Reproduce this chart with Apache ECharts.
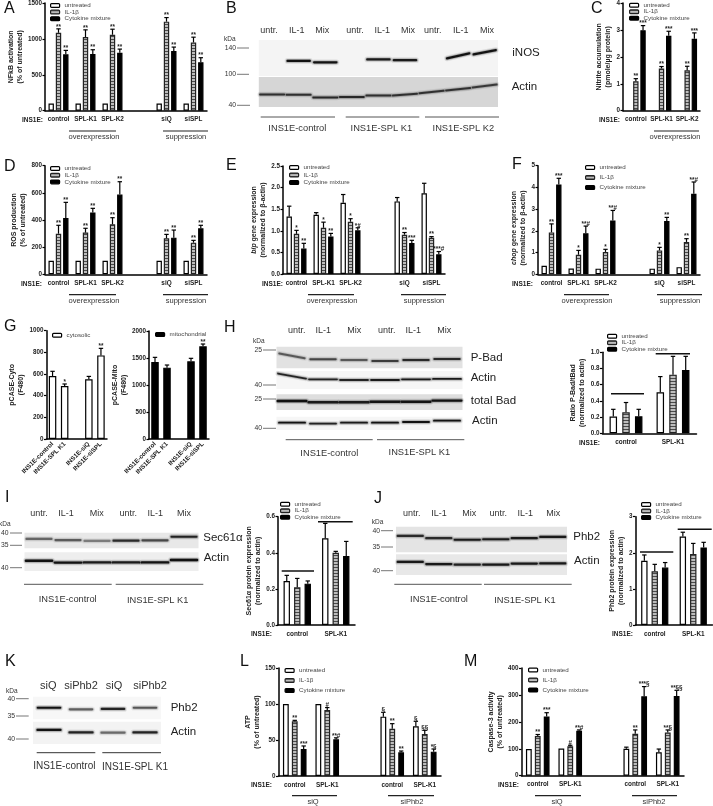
<!DOCTYPE html>
<html>
<head>
<meta charset="utf-8">
<style>
  html, body { margin: 0; padding: 0; background: #fff; }
  #chart { width: 713px; height: 806px; filter: blur(0.35px); }
</style>
<script src="https://cdn.jsdelivr.net/npm/echarts@6/dist/echarts.min.js"></script>
</head>
<body>
<div id="chart"></div>
<script>
// bar panels: means, whisker tops, significance marks
const treatNames = ["untreated", "IL-1β", "Cytokine mixture"];

const aCats = ["control", "SPL-K1", "SPL-K2", "", "siQ", "siSPL"];
const aUntr = [100, 100, 100, null, 100, 100];
const aIL = [1085, 1025, 1058, null, 1240, 950];
const aMix = [785, 790, 808, null, 830, 675];
const aILTop = [1140, 1126, 1135, null, 1297, 1024];
const aMixTop = [840, 849, 858, null, 886, 738];
const aMarks = [["", "**", "**"], ["", "**", "**"], ["", "**", "**"], [], ["", "**", "**"], ["", "**", "**"]];

const cCats = ["control", "SPL-K1", "SPL-K2"];
const cIL = [1.09, 1.57, 1.5];
const cMix = [2.99, 2.78, 2.67];
const cILTop = [1.19, 1.64, 1.65];
const cMixTop = [3.16, 2.95, 2.89];
const cMarks = [["", "**", "***"], ["", "**", "***"], ["", "**", "***"]];

const dCats = ["control", "SPL-K1", "SPL-K2", "", "siQ", "siSPL"];
const dUntr = [100, 100, 100, null, 100, 100];
const dIL = [299, 307, 368, null, 265, 233];
const dMix = [415, 456, 587, null, 270, 339];
const dILTop = [361, 339, 417, null, 294, 250];
const dMixTop = [530, 486, 682, null, 326, 361];
const dMarks = [["", "**", "**"], ["", "**", "**"], ["", "**", "**"], [], ["", "**", "**"], ["", "**", "**"]];

const eCats = ["control", "SPL-K1", "SPL-K2", "", "siQ", "siSPL"];
const eUntr = [1.33, 1.37, 1.65, null, 1.68, 1.87];
const eIL = [0.93, 1.07, 1.21, null, 0.91, 0.84];
const eMix = [0.59, 0.87, 1.01, null, 0.72, 0.455];
const eUntrTop = [1.57, 1.42, 1.84, null, 1.77, 2.1];
const eILTop = [1.01, 1.2, 1.28, null, 0.96, 0.865];
const eMixTop = [0.71, 0.94, 1.07, null, 0.78, 0.52];
const eMarks = [["", "*", "**"], ["", "*", "**"], ["", "*", "*#"], [], ["", "**", "***"], ["", "**", "***#"]];

const fCats = ["control", "SPL-K1", "SPL-K2", "", "siQ", "siSPL"];
const fUntr = [0.39, 0.27, 0.26, null, 0.26, 0.33];
const fIL = [1.93, 0.9, 1.03, null, 1.1, 1.49];
const fMix = [4.14, 1.89, 2.48, null, 2.45, 3.71];
const fILTop = [2.32, 1.1, 1.15, null, 1.24, 1.64];
const fMixTop = [4.42, 2.22, 2.94, null, 2.62, 4.25];
const fMarks = [["", "**", "***"], ["", "*", "**#"], ["", "*", "**#"], [], ["", "*", "**"], ["", "**", "**#"]];

const gCats = ["INS1E-control", "INS1E-SPL K1", "", "INS1E-siQ", "INS1E-siSPL"];
const gCyto = [581, 489, null, 551, 772];
const gCytoTop = [625, 508, null, 578, 837];
const gCytoMarks = [[""], ["*"], [], [""], ["**"]];
const gMito = [1426, 1321, null, 1438, 1716];
const gMitoTop = [1512, 1370, null, 1494, 1759];
const gMitoMarks = [[""], [""], [], [""], ["**"]];

const twoCats = ["control", "SPL-K1"];
const hUntr = [0.206, 0.506];
const hIL = [0.26, 0.724];
const hMix = [0.21, 0.782];
const hUntrTop = [0.296, 0.7];
const hILTop = [0.38, 0.95];
const hMixTop = [0.296, 0.95];

const iUntr = [0.244, 0.48];
const iIL = [0.209, 0.4];
const iMix = [0.229, 0.382];
const iUntrTop = [0.275, 0.563];
const iILTop = [0.258, 0.408];
const iMixTop = [0.244, 0.463];

const jUntr = [1.78, 2.45];
const jIL = [1.49, 1.97];
const jMix = [1.59, 2.15];
const jUntrTop = [1.94, 2.57];
const jILTop = [1.68, 2.26];
const jMixTop = [1.73, 2.29];

const lCats = ["control", "SPL-K1", "", "control", "SPL-K1"];
const lUntr = [100, 100, null, 82.4, 69];
const lIL = [76, 91.7, null, 65.7, 58.3];
const lMix = [37.5, 51, null, 32.9, 33.8];
const lUntrTop = [null, null, null, 88.4, 76];
const lILTop = [77.3, 95, null, 72.7, 63.4];
const lMixTop = [41.7, 53, null, 34.7, 37.5];
const lMarks = [["", "**", "***"], ["", "#", "**#"], [], ["§", "**", "**"], ["§", "§§", "*§"]];

const mCats = ["control", "SPL-K1", "", "control", "SPL-K1"];
const mUntr = [99, 101, null, 100, 87];
const mIL = [147, 109, null, 156, 160];
const mMix = [220, 167, null, 295, 296];
const mUntrTop = [null, null, null, 106, 99];
const mILTop = [153, 113, null, 170, 170];
const mMixTop = [234, 170, null, 331, 317];
const mMarks = [["", "**", "***"], ["", "#", "**#"], [], ["", "**", "***§"], ["", "**§", "**§§"]];

// blots: band migration (0 top of strip, 100 bottom), density and slope for each lane
const bNosPos = [null, 58, 62, null, 54, 56, null, 44, 34];
const bNosDark = [0, 0.95, 0.95, 0, 0.9, 0.9, 0, 0.95, 0.95];
const bNosTilt = [0, 0, 0, 0, 0, 0, 0, -14, -12];
const bActPos = [58, 59, 68, 67, 62, 59, 50, 41, 30];
const bActDark = [0.75, 0.75, 0.8, 0.8, 0.75, 0.75, 0.75, 0.75, 0.7];
const bActTilt = [0, 0, 0, 0, 0, -6, -8, -8, -10];
const hBadPos = [42, 58, 62, 66, 62, 57];
const hBadDark = [0.55, 0.65, 0.55, 0.7, 0.8, 0.8];
const hBadTilt = [22, 0, 0, 0, 0, 0];
const hAct1Pos = [28, 46, 50, 50, 46, 44];
const hAct1Dark = [0.85, 0.85, 0.85, 0.9, 0.9, 0.9];
const hAct1Tilt = [28, 0, 0, 0, 0, 0];
const hTotPos = [43, 51, 51, 47, 47, 40];
const hTotDark = [0.95, 0.9, 0.9, 0.95, 0.95, 0.95];
const hAct2Pos = [45, 52, 45, 45, 40, 30];
const hAct2Dark = [0.95, 0.85, 0.9, 0.95, 0.95, 0.95];
const iSecPos = [40, 47, 53, 51, 49, 26];
const iSecDark = [0.5, 0.55, 0.4, 0.8, 0.65, 0.85];
const iActPos = [45, 55, 54, 54, 54, 41];
const iActDark = [0.95, 0.95, 0.9, 0.9, 0.95, 0.95];
const jPhbPos = [36, 45, 51, 49, 45, 40];
const jPhbDark = [0.8, 0.8, 0.9, 0.9, 0.9, 0.9];
const jActPos = [37, 47, 50, 50, 45, 44];
const jActDark = [0.9, 0.9, 0.85, 0.9, 0.9, 0.9];
const kPhbPos = [49, 56, 54, 49];
const kPhbDark = [0.95, 0.55, 0.85, 0.6];
const kActPos = [37, 48, 49, 48];
const kActDark = [0.95, 0.85, 0.5, 0.85];

const FONT = "Liberation Sans";

// horizontal stripe fill for the IL-1β bars
function stripePattern() {
  const c = document.createElement("canvas");
  c.width = 4;
  c.height = 3;
  const ctx = c.getContext("2d");
  ctx.fillStyle = "#bdbdbd";
  ctx.fillRect(0, 0, 4, 3);
  ctx.fillStyle = "#4a4a4a";
  ctx.fillRect(0, 0, 4, 1);
  return { image: c, repeat: "repeat" };
}

const barStyles = {
  white: { color: "#fff", borderColor: "#000", borderWidth: 1.2 },
  hatch: { color: stripePattern(), borderColor: "#222", borderWidth: 1.2 },
  black: { color: "#000", borderColor: "#000", borderWidth: 1.2 },
};
const treat = (u, il, m, uTop, ilTop, mTop) => [
  { name: treatNames[0], data: u, top: uTop, style: "white" },
  { name: treatNames[1], data: il, top: ilTop, style: "hatch" },
  { name: treatNames[2], data: m, top: mTop, style: "black" },
];
const noMarks = [["", "", ""], ["", "", ""]];
const noTop = [null, null, null, null, null, null];
const noBars = [null, null, null];

const panels = [
  { left: 45, top: 2, width: 162, height: 108.7, cats: aCats, max: 1500, step: 500, bar: 5.4, pitch: 7.3,
    yName: "NFkB activation\n(% of untreated)", nameGap: 14.5, bars: treat(aUntr, aIL, aMix, noTop, aILTop, aMixTop), marks: aMarks,
    legend: { left: 50, top: 2.5, pitch: 5.6 } },
  { left: 623, top: 2.3, width: 77, height: 108.4, cats: cCats, max: 4, step: 1, bar: 5.4, pitch: 7.2,
    yName: "Nitrite accumulation\n(pmole/µg protein)", nameGap: 5.5, bars: treat(noBars, cIL, cMix, noBars, cILTop, cMixTop), marks: cMarks,
    legend: { left: 629, top: 2.2, pitch: 5.5 } },
  { left: 45, top: 165.7, width: 162, height: 108.6, cats: dCats, max: 800, step: 200, bar: 5.4, pitch: 7.3,
    yName: "ROS production\n(% of untreated)", nameGap: 11.5, bars: treat(dUntr, dIL, dMix, noTop, dILTop, dMixTop), marks: dMarks,
    legend: { left: 50, top: 165.5, pitch: 5.7 } },
  { left: 283, top: 166, width: 162, height: 108, cats: eCats, max: 2.5, step: 0.5, dec: 1, bar: 5.4, pitch: 7.3,
    yName: "{i|bip} gene expression\n(normalized to β-actin)", nameGap: 10, bars: treat(eUntr, eIL, eMix, eUntrTop, eILTop, eMixTop), marks: eMarks,
    legend: { left: 289, top: 164.5, pitch: 6.5 } },
  { left: 538, top: 165.7, width: 162, height: 108.6, cats: fCats, max: 5, step: 1, bar: 5.4, pitch: 7.3,
    yName: "{i|chop} gene expression\n(normalized to β-actin)", nameGap: 4.5, namePad: [0, 16, 0, 0], bars: treat(fUntr, fIL, fMix, noTop, fILTop, fMixTop), marks: fMarks,
    legend: { left: 585, top: 164.5, pitch: 9 } },
  { left: 46.5, top: 330.7, width: 60.5, height: 108.3, cats: gCats, max: 1000, step: 200, bar: 7.5, pitch: 0, rotate: 45,
    yName: "pCASE-Cyto\n(F480)", nameGap: 13, bars: [{ name: "cytosolic", data: gCyto, top: gCytoTop, style: "white" }], marks: gCytoMarks,
    legend: { left: 52, top: 332.2, pitch: 6 } },
  { left: 149, top: 331, width: 60, height: 108, cats: gCats, max: 2000, step: 500, bar: 7.5, pitch: 0, rotate: 45,
    yName: "pCASE-Mito\n(F480)", nameGap: 13.5, bars: [{ name: "mitochondrial", data: gMito, top: gMitoTop, style: "black" }], marks: gMitoMarks,
    legend: { left: 155, top: 331.5, pitch: 6 } },
  { left: 602.5, top: 352.3, width: 94, height: 81, cats: twoCats, max: 1, step: 0.2, dec: 1, bar: 7.5, pitch: 12.7,
    yName: "Ratio P-Bad/tBad\n(normalized to actin)", nameGap: 9.5, bars: treat(hUntr, hIL, hMix, hUntrTop, hILTop, hMixTop), marks: noMarks,
    legend: { left: 607, top: 333.2, pitch: 5.5 } },
  { left: 278, top: 516.7, width: 77, height: 108.3, cats: twoCats, max: 0.6, step: 0.2, dec: 1, bar: 6.4, pitch: 10.5,
    yName: "Sec61α protein expression\n(normalized to actin)", nameGap: 10.5, bars: treat(iUntr, iIL, iMix, iUntrTop, iILTop, iMixTop), marks: noMarks,
    legend: { left: 280, top: 501.2, pitch: 5.5 } },
  { left: 635.5, top: 516.7, width: 77, height: 108.3, cats: twoCats, max: 3, step: 1, bar: 6.4, pitch: 10.4,
    yName: "Phb2 protein expression\n(normalized to actin)", nameGap: 4.7, bars: treat(jUntr, jIL, jMix, jUntrTop, jILTop, jMixTop), marks: noMarks,
    legend: { left: 641, top: 501.5, pitch: 5.5 } },
  { left: 278.5, top: 668, width: 162.5, height: 108, cats: lCats, max: 150, step: 50, bar: 5.8, pitch: 8.9,
    yName: "ATP\n(% of untreated)", nameGap: 11.7, bars: treat(lUntr, lIL, lMix, lUntrTop, lILTop, lMixTop), marks: lMarks,
    legend: { left: 284.5, top: 667.5, pitch: 9 } },
  { left: 521.5, top: 668, width: 162.5, height: 107.7, cats: mCats, max: 400, step: 100, bar: 5.8, pitch: 8.9,
    yName: "Caspase-3 activity\n(% of untreated)", nameGap: 10.5, bars: treat(mUntr, mIL, mMix, mUntrTop, mILTop, mMixTop), marks: mMarks,
    legend: { left: 528, top: 667, pitch: 9 } },
];

const strips = [
  { left: 258.8, top: 40, width: 239.2, height: 36, bg: "#f4f4f4", pos: bNosPos, dark: bNosDark, tilt: bNosTilt, fill: 0.84, thick: 2.2 },
  { left: 258.8, top: 77, width: 239.2, height: 30, bg: "#d6d6d6", pos: bActPos, dark: bActDark, tilt: bActTilt, fill: 0.9, thick: 2 },
  { left: 276.5, top: 346.7, width: 186, height: 21.6, bg: "#e2e2e2", pos: hBadPos, dark: hBadDark, tilt: hBadTilt, fill: 0.82, thick: 2 },
  { left: 276.5, top: 371, width: 186, height: 18, bg: "#f6f6f6", pos: hAct1Pos, dark: hAct1Dark, tilt: hAct1Tilt, fill: 0.9, thick: 1.8 },
  { left: 276.5, top: 394.3, width: 186, height: 15.7, bg: "#dedede", pos: hTotPos, dark: hTotDark, fill: 0.92, thick: 2.4 },
  { left: 276.5, top: 416.7, width: 186, height: 13.3, bg: "#f6f6f6", pos: hAct2Pos, dark: hAct2Dark, fill: 0.84, thick: 1.8 },
  { left: 24.5, top: 532.7, width: 174, height: 15.6, bg: "#e8e8e8", pos: iSecPos, dark: iSecDark, fill: 0.86, thick: 2.2 },
  { left: 24.5, top: 552.3, width: 174, height: 18.7, bg: "#eeeeee", pos: iActPos, dark: iActDark, fill: 0.9, thick: 2.4 },
  { left: 396, top: 526.7, width: 171, height: 25.6, bg: "#e4e4e4", pos: jPhbPos, dark: jPhbDark, fill: 0.88, thick: 2.2 },
  { left: 396, top: 554.3, width: 171, height: 20.7, bg: "#e8e8e8", pos: jActPos, dark: jActDark, fill: 0.88, thick: 2.2 },
  { left: 33, top: 696.7, width: 128, height: 22.6, bg: "#f7f7f7", pos: kPhbPos, dark: kPhbDark, fill: 0.7, thick: 2.2 },
  { left: 33, top: 721.7, width: 128, height: 22.3, bg: "#f3f3f3", pos: kActPos, dark: kActDark, fill: 0.72, thick: 2.2 },
];

// free text and rules around the plots
const txt = (x, y, text, size, extra) => ({
  type: "text", x, y, silent: true,
  style: Object.assign({ text, fontSize: size, fontFamily: FONT, fill: "#333", textAlign: "left", textVerticalAlign: "middle" }, extra),
});
const rule = (x1, x2, y, stroke, w) => ({
  type: "line", silent: true,
  shape: { x1, y1: y, x2, y2: y },
  style: { stroke: stroke || "#222", lineWidth: w || 1.2 },
});
const boldTxt = (x, y, text, size) => txt(x, y, text, size || 6.5, { fontWeight: "bold", fill: "#222" });
const midTxt = (x, y, text, size) => txt(x, y, text, size || 9, { textAlign: "center" });

const elements = [];
const letters = [["A", 4, 9], ["B", 226, 9], ["C", 591, 9], ["D", 4, 167], ["E", 226, 166], ["F", 512, 165],
  ["G", 4, 327], ["H", 224, 328], ["I", 5, 498], ["J", 374, 499], ["K", 5, 662], ["L", 240, 662], ["M", 464, 662]];
letters.forEach(([t, x, y]) => elements.push(txt(x, y, t, 16, { fill: "#111" })));

// INS1E: row labels of the bar panels
[[22, 120.7], [599, 120.7], [21, 284], [262, 284], [512, 284], [579, 443], [251, 634.7], [612, 634.7], [251, 785.3], [498, 785]]
  .forEach(([x, y]) => elements.push(boldTxt(x, y, "INS1E:")));

// group rules with a caption
[[69, 116, 131, "overexpression", 94, 137], [163, 208, 131, "suppression", 186, 137],
 [654, 699, 131, "overexpression", 675, 137],
 [69, 116, 294.7, "overexpression", 94, 301], [163, 208, 294.7, "suppression", 186, 301],
 [308, 354, 294.7, "overexpression", 332, 301], [401, 446, 294.7, "suppression", 424, 301],
 [564, 609, 294.7, "overexpression", 587, 301], [657, 702, 294.7, "suppression", 680, 301],
 [292, 337, 795.7, "siQ", 313, 802], [388, 434, 795.7, "siPhb2", 412, 802],
 [535, 581, 795.7, "siQ", 557, 802], [632, 677, 795.7, "siPhb2", 654, 802]]
  .forEach(([x1, x2, y, t, tx, ty]) => {
    elements.push(rule(x1, x2, y));
    elements.push(midTxt(tx, ty, t, 7.5));
  });

// brackets over the two-group panels
[[611, 644, 393.7], [655.7, 690, 353.7], [281.7, 314, 571], [318, 352.7, 521.7], [640, 673.3, 552], [677.7, 711.7, 529.3]]
  .forEach(([a, b, y]) => elements.push(rule(a, b, y, "#111", 1.4)));

// lane headers
[["untr.", 269], ["IL-1", 296.7], ["Mix", 322.3], ["untr.", 355], ["IL-1", 382.3], ["Mix", 408], ["untr.", 432.7], ["IL-1", 460.7], ["Mix", 487]]
  .forEach(([t, x]) => elements.push(midTxt(x, 30.7, t, 9)));
[["untr.", 296.7], ["IL-1", 323.3], ["Mix", 354.3], ["untr.", 386.7], ["IL-1", 413.3], ["Mix", 444.3]]
  .forEach(([t, x]) => elements.push(midTxt(x, 331, t, 9)));
[["untr.", 39], ["IL-1", 66], ["Mix", 96.7], ["untr.", 128.3], ["IL-1", 155.3], ["Mix", 184]]
  .forEach(([t, x]) => elements.push(midTxt(x, 514, t, 9)));
[["untr.", 411.7], ["IL-1", 439], ["Mix", 469.3], ["untr.", 498.3], ["IL-1", 525.3], ["Mix", 553.3]]
  .forEach(([t, x]) => elements.push(midTxt(x, 514, t, 9)));
[["siQ", 48.3], ["siPhb2", 81], ["siQ", 114], ["siPhb2", 150]]
  .forEach(([t, x]) => elements.push(midTxt(x, 685.7, t, 11)));

// kDa ladders: label, label right edge, rule start, rule end, y
const ladders = [
  { kda: [224, 39], marks: [["140", 236, 237, 249, 48], ["100", 236, 237, 249, 74.3], ["40", 236, 237, 250, 105.3]] },
  { kda: [253, 341], marks: [["25", 262, 263, 276, 350], ["40", 262, 263, 276, 385], ["25", 262, 263, 276, 399], ["40", 262, 263, 276, 428.3]] },
  { kda: [-1, 524.3], marks: [["40", 8.5, 10, 22, 533], ["35", 8.5, 10, 22, 545.3], ["40", 8.5, 10, 22, 567.7]] },
  { kda: [371.7, 522.3], marks: [["40", 380, 381, 393, 530.7], ["35", 380, 381, 393, 547], ["40", 380, 381, 393, 570.7]] },
  { kda: [6, 691], marks: [["40", 15, 16, 28.7, 698.7], ["35", 15, 16, 28.7, 716], ["40", 15, 16, 28.7, 739]] },
];
ladders.forEach((l) => {
  elements.push(txt(l.kda[0], l.kda[1], "kDa", 6.5));
  l.marks.forEach(([t, tx, x1, x2, y]) => {
    elements.push(txt(tx, y, t, 6.8, { textAlign: "right" }));
    elements.push(rule(x1, x2, y, "#777", 1));
  });
});

// blot names on the right
[["iNOS", 512.3, 53.3], ["Actin", 511.7, 87.3], ["P-Bad", 470.7, 357.7], ["Actin", 470.7, 378.3], ["total Bad", 470.7, 401], ["Actin", 472, 420.7],
 ["Sec61α", 203.3, 538.3], ["Actin", 203.7, 558.3], ["Phb2", 573.3, 536.7], ["Actin", 574, 561], ["Phb2", 170.7, 708.3], ["Actin", 170.7, 732.3]]
  .forEach(([t, x, y]) => elements.push(txt(x, y, t, 11.5, { fill: "#222" })));

// cell line rules under the blots
[[260.7, 335, 117, "INS1E-control", 297.3, 128], [345.7, 419.3, 117, "INS1E-SPL K1", 381.3, 128], [425, 499, 117, "INS1E-SPL K2", 463.3, 128],
 [285.7, 372.7, 439.7, "INS1E-control", 329.3, 453.3], [377, 464.3, 439.7, "INS1E-SPL K1", 419.3, 452.3],
 [24, 111.7, 584.3, "INS1E-control", 67.7, 599], [115.7, 203.3, 584.3, "INS1E-SPL K1", 157.7, 600.7],
 [394.3, 481.7, 584.3, "INS1E-control", 439, 599], [484, 571.7, 584.3, "INS1E-SPL K1", 525, 600.7]]
  .forEach(([x1, x2, y, t, tx, ty]) => {
    elements.push(rule(x1, x2, y, "#555", 1));
    elements.push(midTxt(tx, ty, t, 9.3));
  });
[[36.7, 95.3, 752.7, "INS1E-control", 64.3, 766.7], [102.3, 161, 752.7, "INS1E-SPL K1", 135, 767.3]]
  .forEach(([x1, x2, y, t, tx, ty]) => {
    elements.push(rule(x1, x2, y, "#333", 1));
    elements.push(midTxt(tx, ty, t, 10));
  });

const grid = [], xAxis = [], yAxis = [], series = [], legend = [];

panels.forEach((p) => {
  const idx = grid.length;
  grid.push({ left: p.left, top: p.top, width: p.width, height: p.height, containLabel: false });
  xAxis.push({
    type: "category", gridIndex: idx, data: p.cats,
    axisLine: { lineStyle: { color: "#000", width: 1.5 } },
    axisTick: { alignWithLabel: true, length: 2.5, lineStyle: { color: "#000", width: 1.2 } },
    axisLabel: {
      interval: 0, rotate: p.rotate || 0, margin: p.rotate ? 4 : 6,
      fontFamily: FONT, fontWeight: "bold", fontSize: p.rotate ? 6.3 : 6.4, color: "#222",
    },
  });
  yAxis.push({
    type: "value", gridIndex: idx, min: 0, max: p.max, interval: p.step,
    name: p.yName, nameLocation: "middle", nameRotate: 90, nameGap: p.nameGap,
    nameTextStyle: {
      fontFamily: FONT, fontWeight: "bold", fontSize: 7, color: "#222", lineHeight: 9, padding: p.namePad || 0,
      rich: { i: { fontFamily: FONT, fontWeight: "bold", fontStyle: "italic", fontSize: 7, color: "#222", lineHeight: 9 } },
    },
    axisLine: { show: true, lineStyle: { color: "#000", width: 1.5 } },
    axisTick: { show: true, length: 2.5, lineStyle: { color: "#000", width: 1.2 } },
    splitLine: { show: false },
    axisLabel: {
      margin: 3, fontFamily: FONT, fontWeight: "bold", fontSize: 6.3, color: "#222",
      formatter: (v) => (p.dec ? v.toFixed(p.dec) : String(v)),
    },
  });

  const n = p.bars.length;
  p.bars.forEach((b, s) => {
    series.push({
      type: "bar", name: b.name, xAxisIndex: idx, yAxisIndex: idx,
      data: b.data, barWidth: p.bar,
      barGap: p.pitch ? ((p.pitch - p.bar) / p.bar) * 100 + "%" : 0,
      itemStyle: barStyles[b.style],
    });
    // whiskers and significance marks, placed on the same scale as the bars
    const offset = (s - (n - 1) / 2) * p.pitch;
    const rows = [];
    b.data.forEach((v, c) => { if (v != null) rows.push([c, v, b.top[c] == null ? v : b.top[c]]); });
    series.push({
      type: "custom", name: b.name + " error", xAxisIndex: idx, yAxisIndex: idx,
      data: rows, encode: { x: 0, y: 1 }, clip: false, silent: true, z: 3,
      renderItem: (params, api) => {
        const c = api.value(0);
        const base = api.coord([c, api.value(1)]);
        const top = api.coord([c, api.value(2)]);
        const x = base[0] + offset;
        const cap = 2.2;
        const kids = [];
        if (api.value(2) > api.value(1)) {
          kids.push({ type: "line", shape: { x1: x, y1: base[1], x2: x, y2: top[1] }, style: { stroke: "#000", lineWidth: 1.2 } });
          kids.push({ type: "line", shape: { x1: x - cap, y1: top[1], x2: x + cap, y2: top[1] }, style: { stroke: "#000", lineWidth: 1.2 } });
        }
        const mark = (p.marks[c] || [])[s];
        if (mark) {
          kids.push({
            type: "text", x, y: top[1] + 1,
            style: { text: mark, fontFamily: FONT, fontWeight: "bold", fontSize: 6.3, fill: "#222", textAlign: "center", textVerticalAlign: "bottom" },
          });
        }
        return { type: "group", children: kids };
      },
    });
  });

  legend.push({
    left: p.legend.left, top: p.legend.top, orient: "vertical", padding: 0,
    itemWidth: 9, itemHeight: 3.8, itemGap: p.legend.pitch - 5, selectedMode: false,
    data: p.bars.map((b) => b.name),
    itemStyle: { borderWidth: 1.2 },
    textStyle: { fontFamily: FONT, fontSize: 6.2, color: "#444", lineHeight: 5 },
  });
});

strips.forEach((st) => {
  const idx = grid.length;
  grid.push({ left: st.left, top: st.top, width: st.width, height: st.height, show: true, backgroundColor: st.bg, borderWidth: 0 });
  xAxis.push({ type: "category", gridIndex: idx, data: st.pos.map((_, i) => i), show: false });
  yAxis.push({ type: "value", gridIndex: idx, min: 0, max: 100, inverse: true, show: false });
  const rows = [];
  st.pos.forEach((v, i) => { if (v != null) rows.push([i, v, st.dark[i], st.tilt ? st.tilt[i] : 0]); });
  series.push({
    type: "custom", xAxisIndex: idx, yAxisIndex: idx, data: rows, encode: { x: 0, y: 1 }, silent: true, clip: false,
    renderItem: (params, api) => {
      const lane = api.value(0), pos = api.value(1), d = api.value(2), tilt = api.value(3);
      const a = api.coord([lane, pos - tilt / 2]);
      const b = api.coord([lane, pos + tilt / 2]);
      const half = (api.size([1, 0])[0] * st.fill) / 2;
      // soft halo under a dark core, like a scanned band
      const layer = (w, alpha) => ({
        type: "line",
        shape: { x1: a[0] - half, y1: a[1], x2: b[0] + half, y2: b[1] },
        style: { stroke: "rgba(10,10,10," + alpha + ")", lineWidth: w, lineCap: "round" },
      });
      return {
        type: "group",
        children: [layer(st.thick + 3.5, d * 0.1), layer(st.thick + 1.6, d * 0.25), layer(st.thick, d)],
      };
    },
  });
});

const chart = echarts.init(document.getElementById("chart"), null, { renderer: "canvas" });
chart.setOption({
  animation: false,
  backgroundColor: "#fff",
  textStyle: { fontFamily: FONT },
  grid, xAxis, yAxis, series, legend,
  graphic: { elements },
});
</script>
</body>
</html>
